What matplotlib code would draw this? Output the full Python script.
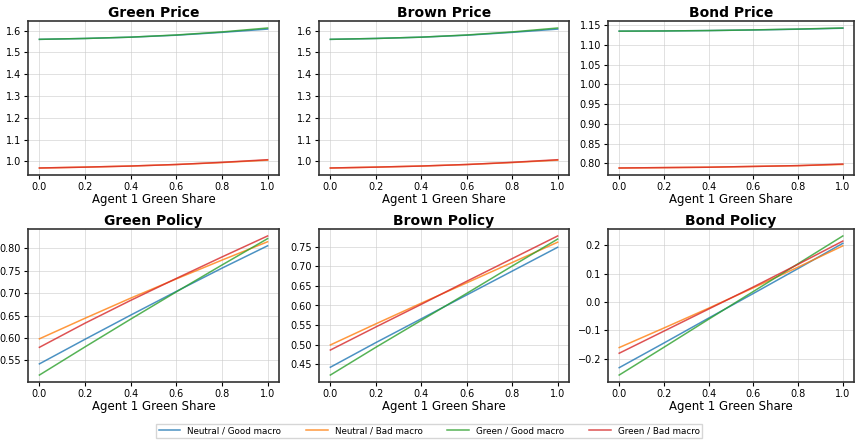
"""
    Price and policy functions against agent 1 green share
"""
import numpy as np
import matplotlib.pyplot as plt
from matplotlib.ticker import MultipleLocator

share = [0.0, 0.2, 0.4, 0.6, 0.8, 1.0]

scenarios = ["Neutral / Good macro", "Neutral / Bad macro", "Green / Good macro", "Green / Bad macro"]
colors = ["#1f77b4", "#ff7f0e", "#2ca02c", "#d62728"]

green_price = [
    [1.560, 1.564, 1.570, 1.579, 1.592, 1.607],
    [0.970, 0.974, 0.979, 0.986, 0.995, 1.006],
    [1.560, 1.564, 1.570, 1.580, 1.594, 1.612],
    [0.970, 0.974, 0.979, 0.986, 0.996, 1.008],
]
brown_price = [
    [1.560, 1.564, 1.570, 1.579, 1.592, 1.607],
    [0.970, 0.974, 0.979, 0.986, 0.995, 1.006],
    [1.560, 1.564, 1.570, 1.580, 1.594, 1.612],
    [0.970, 0.974, 0.979, 0.986, 0.996, 1.008],
]
bond_price = [
    [1.135, 1.1355, 1.1365, 1.138, 1.140, 1.1425],
    [0.788, 0.789, 0.790, 0.792, 0.794, 0.797],
    [1.135, 1.1355, 1.1365, 1.1382, 1.1403, 1.143],
    [0.788, 0.789, 0.790, 0.792, 0.794, 0.798],
]
green_policy = [
    [0.542, 0.597, 0.651, 0.704, 0.756, 0.806],
    [0.598, 0.644, 0.689, 0.732, 0.774, 0.815],
    [0.517, 0.580, 0.642, 0.703, 0.763, 0.822],
    [0.579, 0.633, 0.684, 0.733, 0.781, 0.828],
]
brown_policy = [
    [0.442, 0.505, 0.566, 0.627, 0.688, 0.749],
    [0.499, 0.553, 0.606, 0.658, 0.710, 0.762],
    [0.422, 0.493, 0.562, 0.631, 0.701, 0.770],
    [0.486, 0.545, 0.603, 0.662, 0.720, 0.778],
]
bond_policy = [
    [-0.232, -0.145, -0.057, 0.030, 0.118, 0.207],
    [-0.161, -0.092, -0.022, 0.050, 0.123, 0.198],
    [-0.258, -0.160, -0.061, 0.037, 0.135, 0.233],
    [-0.181, -0.103, -0.025, 0.053, 0.133, 0.215],
]

panels = [
    ("Green Price", green_price, 0.1), ("Brown Price", brown_price, 0.1), ("Bond Price", bond_price, 0.05),
    ("Green Policy", green_policy, 0.05), ("Brown Policy", brown_policy, 0.05), ("Bond Policy", bond_policy, 0.1),
]

W, H = 858, 440
cols = [(28, 279), (319, 569), (608, 854)]
rows = [(21, 175), (229, 382)]

fig = plt.figure(figsize=(W / 100, H / 100), dpi=100)

handles = []
for i, (title, series, step) in enumerate(panels):
    x0, x1 = cols[i % 3]
    y0, y1 = rows[i // 3]
    ax = fig.add_axes([x0 / W, 1 - y1 / H, (x1 - x0) / W, (y1 - y0) / H])
    for name, color, vals in zip(scenarios, colors, series):
        line, = ax.plot(share, vals, color=color, lw=1.1, alpha=0.8, label=name)
        if i == 0:
            handles.append(line)
    ax.set_title(title, fontsize=10, fontweight="bold", pad=3)
    ax.set_xlabel("Agent 1 Green Share", fontsize=8.5, labelpad=1)
    ax.set_xticks(np.arange(0, 1.01, 0.2))
    ax.yaxis.set_major_locator(MultipleLocator(step))
    ax.tick_params(labelsize=7, length=3, pad=2)
    ax.grid(True, color="#cccccc", alpha=0.6, lw=0.7)
    for sp in ax.spines.values():
        sp.set_linewidth(1.2)
        sp.set_color("#333333")

fig.legend(handles=handles, labels=scenarios, loc="center", bbox_to_anchor=(0.5, 1 - 431 / H),
           ncol=4, fontsize=6.3, frameon=True, fancybox=False, edgecolor="#cccccc",
           handlelength=2.5, columnspacing=2.8, borderpad=0.3)

fig.savefig("out.png", dpi=100)
